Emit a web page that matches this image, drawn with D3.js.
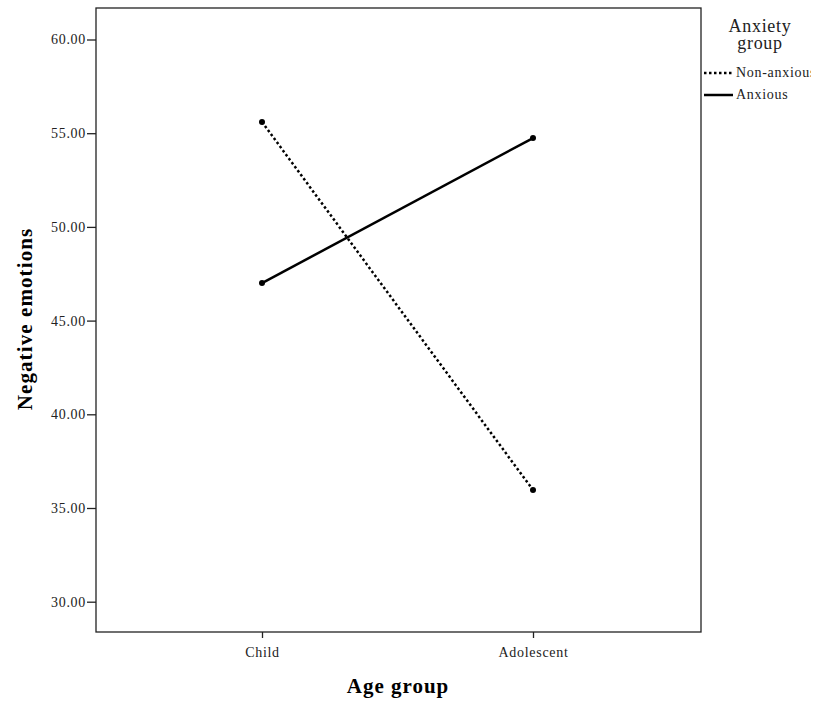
<!DOCTYPE html>
<html><head><meta charset="utf-8">
<script src="https://cdn.jsdelivr.net/npm/d3@7"></script>
<style>body{margin:0;background:#fff}svg{display:block}</style>
</head><body>
<svg id="c" width="814" height="704"></svg>
<script>
const categories = ["Child", "Adolescent"];
const nonAnxious = [55.6, 35.96];
const anxious = [47.0, 54.74];
const yTicks = [30, 35, 40, 45, 50, 55, 60];
const seriesNames = ["Non-anxious", "Anxious"];

const svg = d3.select("#c");
const L = 96, R = 701, T = 8, B = 632;
const font = "'Liberation Serif','Times New Roman',serif";

const y = d3.scaleLinear().domain([30, 60]).range([601.7, 39.5]);
const x = d3.scalePoint().domain(categories).range([262, 533]);

svg.append("rect").attr("x", L).attr("y", T).attr("width", R - L).attr("height", B - T)
  .attr("fill", "none").attr("stroke", "#222").attr("stroke-width", 1.3);

const yAxis = svg.append("g").attr("transform", `translate(${L},0)`)
  .call(d3.axisLeft(y).tickValues(yTicks).tickFormat(d3.format(".2f")).tickSize(9).tickPadding(1));
yAxis.select(".domain").remove();
yAxis.selectAll("line").attr("stroke", "#222").attr("stroke-width", 1.3);
yAxis.selectAll("text").attr("font-family", font).attr("font-size", 14).attr("letter-spacing", 0.7).attr("fill", "#222");

const xAxis = svg.append("g").attr("transform", `translate(0,${B})`)
  .call(d3.axisBottom(x).tickSize(6).tickPadding(9));
xAxis.select(".domain").remove();
xAxis.selectAll("line").attr("stroke", "#222").attr("stroke-width", 1.3);
xAxis.selectAll("text").attr("font-family", font).attr("font-size", 14).attr("letter-spacing", 0.7).attr("fill", "#222");

const line = d3.line().x((d, i) => x(categories[i])).y(d => y(d));
const series = [
  {name: seriesNames[0], values: nonAnxious, dash: "2.5,2.5"},
  {name: seriesNames[1], values: anxious, dash: null}
];
series.forEach(s => {
  svg.append("path").datum(s.values).attr("d", line).attr("fill", "none")
    .attr("stroke", "#000").attr("stroke-width", 2.5).attr("stroke-dasharray", s.dash);
  svg.selectAll(null).data(s.values).enter().append("circle")
    .attr("cx", (d, i) => x(categories[i])).attr("cy", d => y(d)).attr("r", 3).attr("fill", "#000");
});

svg.append("text").attr("x", 398).attr("y", 693).attr("text-anchor", "middle")
  .attr("font-family", font).attr("font-weight", "bold").attr("font-size", 21).attr("letter-spacing", 1)
  .text("Age group");
svg.append("text").attr("transform", "translate(32,319) rotate(-90)").attr("text-anchor", "middle")
  .attr("font-family", font).attr("font-weight", "bold").attr("font-size", 21).attr("letter-spacing", 1.1)
  .text("Negative emotions");

// legend
svg.append("text").attr("x", 760).attr("y", 32).attr("text-anchor", "middle")
  .attr("font-family", font).attr("font-size", 18).attr("letter-spacing", 0.7).attr("fill", "#222").text("Anxiety");
svg.append("text").attr("x", 760).attr("y", 49).attr("text-anchor", "middle")
  .attr("font-family", font).attr("font-size", 18).attr("letter-spacing", 0.7).attr("fill", "#222").text("group");
svg.append("clipPath").attr("id", "lc").append("rect").attr("x", 700).attr("y", 55).attr("width", 111).attr("height", 60);
const lg = svg.append("g").attr("clip-path", "url(#lc)");
series.forEach((s, i) => {
  const yy = 73 + i * 22;
  lg.append("line").attr("x1", 704).attr("x2", 733).attr("y1", yy).attr("y2", yy)
    .attr("stroke", "#000").attr("stroke-width", 2.5).attr("stroke-dasharray", s.dash);
  lg.append("text").attr("x", 736).attr("y", yy + 4).attr("font-family", font).attr("font-size", 14)
    .attr("letter-spacing", 0.7).attr("fill", "#222").text(s.name);
});
</script>
</body></html>
